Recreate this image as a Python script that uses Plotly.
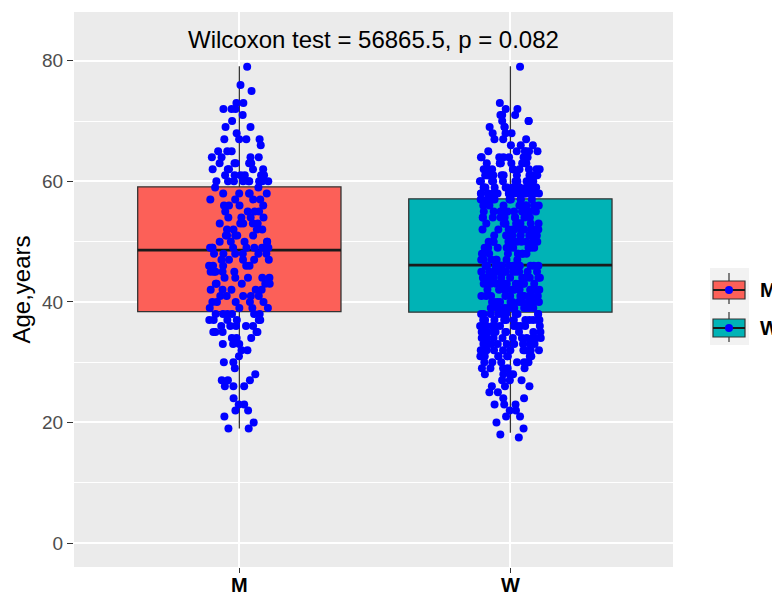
import plotly.graph_objects as go

# ---------------- data ----------------
groups = ["M", "W"]

ages_m = [
    79, 76, 75, 73, 73, 72, 72, 72, 71, 70, 69, 69, 68, 67, 67, 67, 67, 66, 65, 65,
    65, 64, 64, 64, 64, 63, 63, 63, 63, 63, 62, 62, 62, 62, 62, 61, 61, 61, 61, 61,
    61, 60, 60, 60, 60, 60, 60, 60, 60, 60,
    59, 59, 58, 58, 58, 58, 58, 57, 57, 57, 57, 56, 56, 56, 56, 55, 55, 55, 55, 54,
    54, 54, 54, 53, 53, 53, 53, 53, 52, 52, 52, 52, 51, 51, 51, 51, 51, 50, 50, 50,
    50, 50, 49, 49, 49, 49, 49, 49, 49, 49,
    48, 48, 48, 48, 48, 48, 47, 47, 47, 47, 47, 46, 46, 46, 46, 46, 45, 45, 45, 45,
    45, 44, 44, 44, 44, 44, 43, 43, 43, 43, 43, 42, 42, 42, 42, 42, 41, 41, 41, 41,
    41, 40, 40, 40, 40, 40, 39, 39, 39, 39,
    38, 38, 38, 38, 38, 38, 37, 37, 37, 37, 37, 37, 36, 36, 36, 36, 36, 35, 35, 35,
    35, 35, 34, 34, 34, 33, 33, 33, 32, 32, 31, 30, 30, 29, 28, 27, 27, 27, 26, 26,
    26, 24, 23, 23, 22, 22, 21, 20, 19, 19,
]

ages_w = [
    79, 73, 72, 72, 71, 71, 71, 70, 70, 70, 69, 69, 69, 68, 68, 68, 67, 67, 67, 66,
    66, 66, 65, 65, 65, 65, 65, 65, 64, 64, 64, 64, 64, 64, 64, 63, 63, 63, 63, 63,
    63, 63, 63, 62, 62, 62, 62, 62, 62, 62, 62, 62, 61, 61, 61, 61, 61, 61, 61, 61,
    61, 61, 60, 60, 60, 60, 60, 60, 60, 60, 60, 60, 60, 60, 60, 59, 59, 59, 59, 59,
    59, 59, 59, 59, 59, 59, 59, 59, 59, 58, 58, 58, 58, 58, 58, 58, 58, 58, 58, 58,
    58, 58, 58, 58, 58,
    57, 57, 57, 57, 57, 57, 57, 57, 57, 56, 56, 56, 56, 56, 56, 56, 56, 56, 55, 55,
    55, 55, 55, 55, 55, 55, 55, 55, 54, 54, 54, 54, 54, 54, 54, 54, 54, 54, 53, 53,
    53, 53, 53, 53, 53, 53, 53, 53, 52, 52, 52, 52, 52, 52, 52, 52, 52, 52, 51, 51,
    51, 51, 51, 51, 51, 51, 51, 51, 50, 50, 50, 50, 50, 50, 50, 50, 50, 50, 49, 49,
    49, 49, 49, 49, 49, 49, 49, 48, 48, 48, 48, 48, 48, 48, 48, 48, 47, 47, 47, 47,
    47, 47, 47, 46, 46,
    46, 46, 46, 46, 46, 46, 46, 46, 46, 46, 46, 45, 45, 45, 45, 45, 45, 45, 45, 45,
    45, 45, 45, 44, 44, 44, 44, 44, 44, 44, 44, 44, 44, 44, 44, 43, 43, 43, 43, 43,
    43, 43, 43, 43, 43, 43, 43, 42, 42, 42, 42, 42, 42, 42, 42, 42, 42, 42, 42, 41,
    41, 41, 41, 41, 41, 41, 41, 41, 41, 41, 41, 40, 40, 40, 40, 40, 40, 40, 40, 40,
    40, 40, 40, 39, 39, 39, 39, 39, 39, 39, 39, 39, 39, 39, 39, 38, 38, 38, 38, 38,
    38, 38, 38, 38, 38,
    37, 37, 37, 37, 37, 37, 37, 37, 37, 37, 37, 36, 36, 36, 36, 36, 36, 36, 36, 36,
    36, 36, 35, 35, 35, 35, 35, 35, 35, 35, 35, 35, 34, 34, 34, 34, 34, 34, 34, 34,
    34, 34, 33, 33, 33, 33, 33, 33, 33, 33, 33, 32, 32, 32, 32, 32, 32, 32, 32, 32,
    31, 31, 31, 31, 31, 31, 31, 31, 30, 30, 30, 30, 30, 30, 30, 29, 29, 29, 29, 29,
    28, 28, 28, 28, 27, 27, 27, 26, 26, 26, 25, 25, 24, 24, 23, 23, 23, 22, 22, 21,
    21, 20, 19, 18, 17.5,
]

# box statistics
q1 = [38.4, 38.3]
median = [48.6, 46.1]
q3 = [59.1, 57.1]
lower_whisker = [19.0, 18.3]
upper_whisker = [79.1, 79.1]

test_label = "Wilcoxon test = 56865.5, p = 0.082"
y_ticks = [0, 20, 40, 60, 80]
y_title = "Age,years"

# ---------------- styling ----------------
fills = {"M": "#FC6058", "W": "#00B3B6"}
edge = "#333333"
dot = "#0000FF"
FONT = "Liberation Sans, Arial, sans-serif"

# the page body has an 8px margin, so the figure is 8px smaller than the window
OFF = 8
W, H = 780 - OFF, 596 - OFF
ML, MR, MT, MB = 74 - OFF, 107, 12 - OFF, 29
PW, PH = W - ML - MR, H - MT - MB


def px2x(px):
    # window pixel -> paper x
    return (px - OFF - ML) / PW


def px2y(py):
    # window pixel -> paper y
    return (H - MB - (py - OFF)) / PH


fig = go.Figure()

samples = {"M": ages_m, "W": ages_w}
for i, g in enumerate(groups):
    # box + whiskers
    fig.add_trace(go.Box(
        x=[g], q1=[q1[i]], median=[median[i]], q3=[q3[i]],
        lowerfence=[lower_whisker[i]], upperfence=[upper_whisker[i]],
        fillcolor=fills[g], line=dict(color=edge, width=1.3),
        whiskerwidth=0, width=0.75, boxpoints=False,
        showlegend=False, hoverinfo="skip",
    ))
    # thicker median (ggplot style)
    fig.add_trace(go.Box(
        x=[g], q1=[median[i]], median=[median[i]], q3=[median[i]],
        lowerfence=[median[i]], upperfence=[median[i]],
        fillcolor="rgba(0,0,0,0)", line=dict(color="#1a1a1a", width=2.6),
        whiskerwidth=0, width=0.75, boxpoints=False,
        showlegend=False, hoverinfo="skip",
    ))

for i, g in enumerate(groups):
    # jittered points
    fig.add_trace(go.Box(
        x=[g] * len(samples[g]), y=samples[g],
        boxpoints="all", jitter=0.3, pointpos=0,
        fillcolor="rgba(0,0,0,0)", line=dict(color="rgba(0,0,0,0)", width=0),
        marker=dict(color=dot, size=8, line=dict(width=0)),
        width=0.75, showlegend=False, hoveron="points",
    ))

# test annotation
fig.add_annotation(
    x=0.5, y=83.5, xref="paper", yref="y", text=test_label, showarrow=False,
    font=dict(family=FONT, size=24, color="black"), xanchor="center", yanchor="middle",
)

# manual ggplot-like legend
shapes = [
    dict(type="rect", xref="paper", yref="paper",
         x0=px2x(710), x1=px2x(749), y0=px2y(268), y1=px2y(345),
         fillcolor="#F2F2F2", line=dict(width=0)),
]
for g, yc, ytop, ybot, wt, wb in [("M", 290, 281, 299, 273, 304), ("W", 328, 319, 337, 312, 342)]:
    shapes += [
        dict(type="line", xref="paper", yref="paper",
             x0=px2x(729), x1=px2x(729), y0=px2y(wt), y1=px2y(wb),
             line=dict(color=edge, width=1.2)),
        dict(type="rect", xref="paper", yref="paper",
             x0=px2x(713), x1=px2x(745), y0=px2y(ytop), y1=px2y(ybot),
             fillcolor=fills[g], line=dict(color=edge, width=1.2)),
        dict(type="line", xref="paper", yref="paper",
             x0=px2x(713), x1=px2x(745), y0=px2y(yc), y1=px2y(yc),
             line=dict(color="#1a1a1a", width=2)),
        dict(type="circle", xref="paper", yref="paper",
             x0=px2x(725), x1=px2x(733), y0=px2y(yc - 4), y1=px2y(yc + 4),
             fillcolor=dot, line=dict(width=0)),
    ]
    fig.add_annotation(
        x=px2x(758), y=px2y(yc), xref="paper", yref="paper", text="<b>%s</b>" % g,
        showarrow=False, xanchor="left", yanchor="middle",
        font=dict(family=FONT, size=20, color="black"),
    )

fig.update_layout(
    width=W, height=H,
    margin=dict(l=ML, r=MR, t=MT, b=MB, pad=0, autoexpand=False),
    paper_bgcolor="white", plot_bgcolor="#EBEBEB",
    showlegend=False, boxmode="overlay", shapes=shapes,
    font=dict(family=FONT),
)

fig.update_xaxes(
    type="category", categoryorder="array", categoryarray=groups,
    range=[-0.61, 1.6], showgrid=True, gridcolor="white", gridwidth=1.6,
    ticks="outside", ticklen=5, tickwidth=1, tickcolor=edge, ticklabelstandoff=-5,
    tickfont=dict(family=FONT, size=20, color="black", weight="bold"),
    showline=False, zeroline=False, fixedrange=True, automargin=False,
)

fig.update_yaxes(
    range=[-3.98, 88.1], tickvals=y_ticks, showgrid=True, gridcolor="white", gridwidth=1.6,
    minor=dict(dtick=10, showgrid=True, gridcolor="white", gridwidth=0.8, ticks=""),
    ticks="outside", ticklen=6, tickwidth=1, tickcolor=edge,
    tickfont=dict(family=FONT, size=19, color="#4D4D4D"),
    title=dict(text=y_title, font=dict(family=FONT, size=24, color="black"), standoff=6),
    showline=False, zeroline=False, fixedrange=True, automargin=False,
)

fig.write_html("out.html")
